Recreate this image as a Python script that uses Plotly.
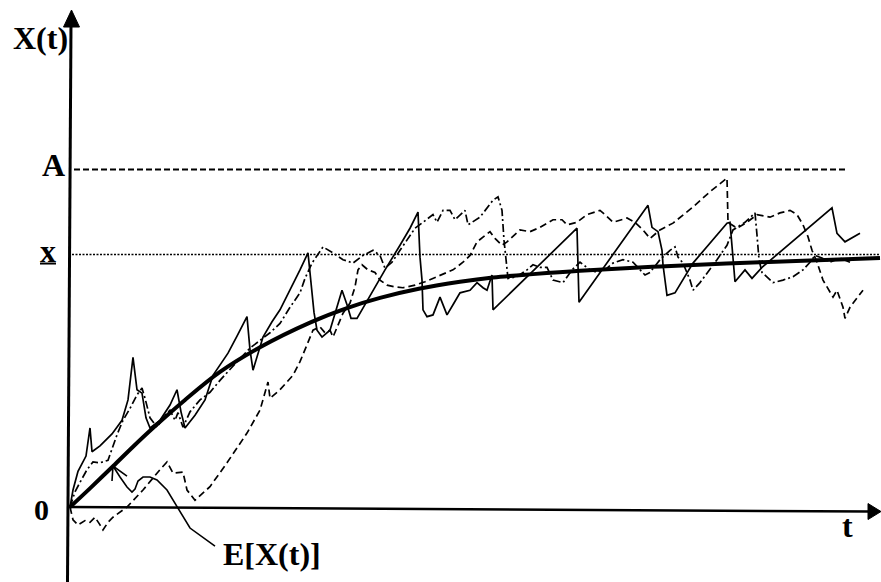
import plotly.graph_objects as go

# ---------------- data ----------------
# expectation curve E[X(t)]
t_mean = [0, 0.20, 0.43, 0.63, 0.83, 1.15, 1.50, 1.90, 2.40, 2.77, 3.10, 3.50, 3.90,
          4.23, 4.63, 5.10, 5.90, 6.90, 7.90, 8.10]
x_mean = [0, 0.22, 0.48, 0.71, 0.93, 1.26, 1.59, 1.88, 2.17, 2.34, 2.46, 2.57, 2.65,
          2.70, 2.74, 2.78, 2.83, 2.88, 2.92, 2.93]

# sample path 1 (solid)
t_path1 = [0, 0.03, 0.08, 0.16, 0.20, 0.22, 0.30, 0.42, 0.52, 0.58, 0.63, 0.67, 0.72, 0.76,
           0.80, 0.90, 1.00, 1.07, 1.11, 1.15, 1.25, 1.35, 1.43, 1.50, 1.58, 1.67, 1.77,
           1.80, 1.83, 1.93, 2.02, 2.10, 2.20, 2.30, 2.38, 2.41, 2.44, 2.47, 2.52, 2.60,
           2.67, 2.72, 2.77, 2.81, 2.87, 3.00, 3.15, 3.30, 3.40, 3.48, 3.50, 3.52, 3.53,
           3.57, 3.63, 3.70, 3.77, 3.83, 3.90, 4.00, 4.07, 4.13, 4.17, 4.22, 4.23, 5.07,
           5.08, 5.09, 5.78, 5.82, 5.88, 5.92, 5.93, 5.97, 6.05, 6.23, 6.57, 6.60, 6.65,
           6.75, 6.82, 6.92, 7.62, 7.67, 7.75, 7.90]
x_path1 = [0, 0.20, 0.42, 0.60, 0.93, 0.65, 0.72, 0.86, 1.02, 1.26, 1.76, 1.38, 1.34, 1.05,
           0.93, 1.02, 1.20, 1.38, 1.12, 0.93, 1.08, 1.26, 1.55, 1.67, 1.81, 2.01, 2.24,
           1.85, 1.61, 2.00, 2.18, 2.32, 2.55, 2.79, 2.99, 2.61, 2.29, 2.08, 2.00, 2.08,
           2.35, 2.55, 2.38, 2.22, 2.22, 2.49, 2.79, 3.08, 3.28, 3.47, 2.94, 2.67, 2.32,
           2.24, 2.26, 2.47, 2.26, 2.38, 2.52, 2.55, 2.64, 2.58, 2.55, 2.73, 2.32, 3.28,
           2.81, 2.41, 3.55, 3.29, 3.24, 3.02, 2.85, 2.49, 2.52, 2.87, 3.34, 3.35, 2.65,
           2.79, 2.69, 2.82, 3.52, 3.22, 3.12, 3.22]

# sample path 2 (dash-dot)
t_path2 = [0, 0.05, 0.10, 0.17, 0.23, 0.30, 0.38, 0.43, 0.47, 0.53, 0.60, 0.67, 0.72, 0.75,
           0.80, 0.87, 0.95, 1.00, 1.05, 1.08, 1.13, 1.20, 1.30, 1.40, 1.50, 1.67, 1.80,
           1.90, 2.00, 2.10, 2.20, 2.30, 2.35, 2.42, 2.47, 2.53, 2.63, 2.73, 2.83, 2.93,
           3.03, 3.10, 3.15, 3.22, 3.30, 3.38, 3.45, 3.53, 3.58, 3.63, 3.67, 3.73, 3.80,
           3.85, 3.95, 3.98, 4.10, 4.23, 4.28, 4.32, 4.34, 4.36, 4.38, 4.47, 4.57, 4.63,
           4.70, 4.77, 4.83, 4.93, 5.02, 5.10, 5.20, 5.27, 5.37, 5.43, 5.53, 5.63, 5.70,
           5.75, 5.80, 5.90, 6.00, 6.05, 6.08, 6.13, 6.20, 6.23, 6.30, 6.37, 6.47, 6.57,
           6.63, 6.75, 6.85, 6.87, 6.89, 6.92, 6.97, 7.03, 7.13, 7.23, 7.33, 7.40, 7.45,
           7.52, 7.60, 7.70, 7.80]
x_path2 = [0, 0.18, 0.29, 0.44, 0.53, 0.52, 0.55, 0.73, 0.85, 1.02, 1.16, 1.32, 1.40, 1.28,
           1.05, 0.94, 1.08, 1.14, 1.02, 1.11, 0.94, 1.12, 1.26, 1.35, 1.49, 1.71, 1.87,
           1.96, 2.05, 2.16, 2.35, 2.52, 2.69, 2.87, 2.96, 3.06, 2.99, 2.91, 2.87, 2.96,
           3.02, 2.96, 2.81, 2.88, 3.02, 3.16, 3.28, 3.35, 3.40, 3.44, 3.35, 3.49, 3.49,
           3.38, 3.49, 3.32, 3.41, 3.61, 3.65, 3.49, 3.14, 2.91, 2.69, 2.71, 2.79, 2.85,
           2.82, 2.82, 2.67, 2.64, 2.79, 2.88, 2.79, 2.76, 2.81, 2.87, 2.91, 2.88, 2.79,
           2.73, 2.76, 2.91, 3.02, 3.06, 2.94, 2.87, 2.67, 2.55, 2.64, 2.75, 2.91, 3.08,
           3.26, 3.35, 3.46, 3.20, 2.91, 2.76, 2.71, 2.64, 2.67, 2.71, 2.79, 2.88, 2.96,
           2.93, 2.88, 2.93, 2.88]

# sample path 3 (dashed, starts below zero)
t_path3 = [0, 0.03, 0.08, 0.15, 0.20, 0.25, 0.30, 0.33, 0.38, 0.43, 0.57, 0.73, 0.90, 0.97,
           1.03, 1.13, 1.17, 1.25, 1.40, 1.57, 1.77, 1.90, 1.98, 2.00, 2.10, 2.23, 2.30,
           2.37, 2.43, 2.50, 2.55, 2.60, 2.63, 2.73, 2.80, 2.85, 2.88, 2.92, 2.98, 3.05,
           3.10, 3.17, 3.25, 3.33, 3.45, 3.55, 3.63, 3.70, 3.83, 3.93, 4.00, 4.07, 4.13,
           4.20, 4.25, 4.32, 4.37, 4.50, 4.60, 4.70, 4.83, 4.92, 4.97, 5.07, 5.17, 5.30,
           5.35, 5.43, 5.57, 5.65, 5.73, 5.80, 5.90, 6.03, 6.23, 6.40, 6.57, 6.58, 6.67,
           6.77, 6.87, 7.00, 7.10, 7.20, 7.27, 7.33, 7.38, 7.42, 7.47, 7.53, 7.57, 7.63,
           7.67, 7.73, 7.75, 7.80, 7.87, 7.93]
x_path3 = [0, -0.15, -0.21, -0.16, -0.18, -0.12, -0.21, -0.27, -0.18, -0.12, 0, 0.20, 0.44,
           0.53, 0.40, 0.41, 0.20, 0.08, 0.24, 0.52, 0.87, 1.14, 1.47, 1.28, 1.38, 1.55,
           1.71, 1.91, 2.08, 2.12, 2.05, 2.08, 2.00, 2.28, 2.40, 2.59, 2.79, 2.85, 2.79,
           2.76, 2.67, 2.61, 2.59, 2.58, 2.61, 2.65, 2.69, 2.73, 2.79, 2.88, 2.96, 3.12,
           3.18, 3.24, 3.16, 3.08, 3.12, 3.26, 3.24, 3.29, 3.38, 3.38, 3.32, 3.35, 3.44,
           3.49, 3.44, 3.35, 3.40, 3.35, 3.26, 3.16, 3.26, 3.34, 3.53, 3.71, 3.87, 3.35,
           3.28, 3.35, 3.44, 3.41, 3.46, 3.49, 3.44, 3.32, 3.18, 3.02, 2.88, 2.67, 2.59,
           2.47, 2.55, 2.35, 2.22, 2.35, 2.46, 2.55]

A_level = 3.97
xbar_level = 2.97

axis_labels = {"y": "X(t)", "x": "t", "origin": "0", "A": "A", "xbar": "x",
               "mean": "E[X(t)]"}

# ---------------- figure ----------------
X_RANGE = [-0.70, 8.11]
Y_RANGE = [-0.882, 5.965]


def px2t(px):
    return (px - 70) / 100.0


def py2x(py):
    return (507 - py) / 85.0


FONT = "Liberation Serif"
ink = "black"

fig = go.Figure()
fig.add_trace(go.Scatter(x=t_path3, y=x_path3, mode="lines", hoverinfo="skip",
                         line=dict(color=ink, width=1.7, dash="7px,4px")))
fig.add_trace(go.Scatter(x=t_path2, y=x_path2, mode="lines", hoverinfo="skip",
                         line=dict(color=ink, width=1.7, dash="8px,3px,2px,3px")))
fig.add_trace(go.Scatter(x=t_path1, y=x_path1, mode="lines", hoverinfo="skip",
                         line=dict(color=ink, width=1.7)))
fig.add_trace(go.Scatter(x=t_mean, y=x_mean, mode="lines", hoverinfo="skip",
                         line=dict(color=ink, width=4, shape="spline", smoothing=1.0)))

shapes = []
# reference levels
shapes.append(dict(type="line", xref="x", yref="y", x0=px2t(74), x1=px2t(848),
                   y0=A_level, y1=A_level, line=dict(color=ink, width=2, dash="6px,3px")))
shapes.append(dict(type="line", xref="x", yref="y", x0=px2t(72), x1=px2t(880),
                   y0=xbar_level, y1=xbar_level, line=dict(color=ink, width=1.5, dash="2px,1.5px")))
# y axis
shapes.append(dict(type="line", xref="x", yref="y", x0=px2t(71), y0=py2x(24),
                   x1=px2t(67.5), y1=Y_RANGE[0], line=dict(color=ink, width=3)))
shapes.append(dict(type="path", xref="x", yref="y", fillcolor=ink, line=dict(color=ink, width=1),
                   path="M {} {} L {} {} L {} {} Z".format(px2t(71.5), py2x(10), px2t(63.5), py2x(27),
                                                       px2t(79.5), py2x(27))))
# x axis
shapes.append(dict(type="line", xref="x", yref="y", x0=px2t(67), y0=py2x(507),
                   x1=px2t(870), y1=py2x(511.5), line=dict(color=ink, width=2.5)))
shapes.append(dict(type="path", xref="x", yref="y", fillcolor=ink, line=dict(color=ink, width=1),
                   path="M {} {} L {} {} L {} {} Z".format(px2t(881), py2x(511.5), px2t(868), py2x(503.5),
                                                       px2t(868), py2x(519.5))))
# underline of x label
shapes.append(dict(type="line", xref="x", yref="y", x0=px2t(40), x1=px2t(56),
                   y0=py2x(263.5), y1=py2x(263.5), line=dict(color=ink, width=2)))
# pointer to E[X(t)]
ptr = [(215, 546), (190, 528), (167, 490), (157, 480), (150, 477), (143, 477), (138, 481),
       (135, 489), (132, 492), (127, 487), (120, 477), (113, 466)]
d = "M " + " L ".join("{:.4f} {:.4f}".format(px2t(a), py2x(b)) for a, b in ptr)
shapes.append(dict(type="path", xref="x", yref="y", path=d, line=dict(color=ink, width=1.6)))
d2 = "M {:.4f} {:.4f} L {:.4f} {:.4f} L {:.4f} {:.4f}".format(px2t(112), py2x(481), px2t(113), py2x(466),
                                                            px2t(127), py2x(476))
shapes.append(dict(type="path", xref="x", yref="y", path=d2, line=dict(color=ink, width=1.6)))


def lab(text, px, py, size=32, bold=True):
    return dict(x=px2t(px), y=py2x(py), xref="x", yref="y", text=("<b>%s</b>" % text) if bold else text,
                showarrow=False, xanchor="center", yanchor="middle",
                font=dict(family=FONT, size=size, color=ink))


annotations = [
    lab(axis_labels["y"], 40, 38),
    lab(axis_labels["A"], 53, 165),
    lab(axis_labels["xbar"], 48, 251),
    lab(axis_labels["origin"], 41, 509, size=30),
    lab(axis_labels["x"], 847, 526),
    lab(axis_labels["mean"], 272, 554, size=32),
]

fig.update_layout(
    width=881, height=582, autosize=False,
    margin=dict(l=0, r=0, t=0, b=0),
    paper_bgcolor="white", plot_bgcolor="white",
    showlegend=False,
    xaxis=dict(range=X_RANGE, visible=False, fixedrange=True),
    yaxis=dict(range=Y_RANGE, visible=False, fixedrange=True),
    shapes=shapes, annotations=annotations,
)

fig.write_html("out.html", config={"displayModeBar": False},
               post_script="document.body.style.margin='0';document.body.style.overflow='hidden';")
